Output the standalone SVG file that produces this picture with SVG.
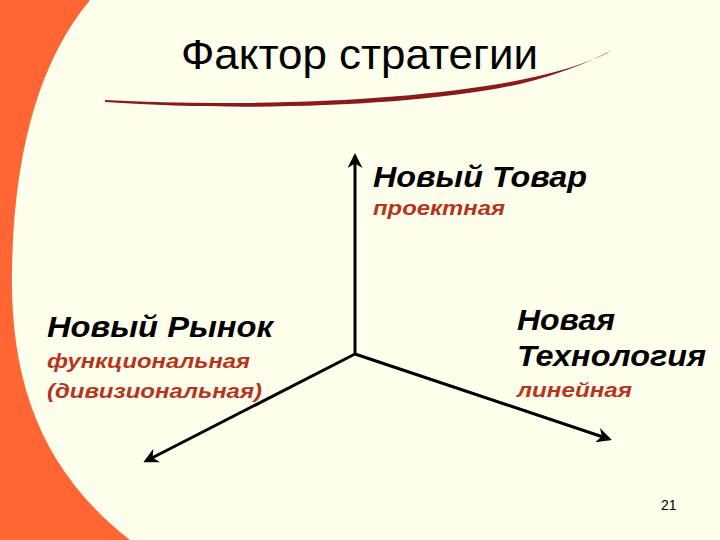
<svg xmlns="http://www.w3.org/2000/svg" width="720" height="540" viewBox="0 0 720 540">
<defs>
<style>
.h{font-family:"Liberation Sans",Arial,sans-serif;font-weight:bold;font-style:italic;font-size:29px;fill:#000}
.s{font-family:"Liberation Sans",Arial,sans-serif;font-weight:bold;font-style:italic;font-size:20px;fill:#B5361C}
.ax{stroke:#000;stroke-width:3;fill:none}
</style>
<marker id="ah" viewBox="0 0 10 10" refX="8" refY="5" markerWidth="5" markerHeight="5" orient="auto" markerUnits="strokeWidth">
<path d="M0,0 L10,5 L0,10 L3,5 Z" fill="#000"/>
</marker>
</defs>
<rect width="720" height="540" fill="#FF6633"/>
<path d="M90,0 L720,0 L720,540 L130,540 C40,470 10,380 12,270 C14,150 40,60 90,0 Z" fill="#FFFFEE"/>
<path d="M105,100 C250,108 420,100 520,80 C570,70 600,58 612,50 C590,62 560,74 520,84 C420,106 250,112 105,102 Z" fill="#8B1A1A"/>
<text x="181" y="69" font-family="Liberation Sans,Arial,sans-serif" font-size="42" fill="#000" textLength="357" lengthAdjust="spacingAndGlyphs">Фактор стратегии</text>
<g id="connectors">
<line class="ax" x1="355" y1="354" x2="355" y2="156" marker-end="url(#ah)"/>
<line class="ax" x1="355" y1="354" x2="146" y2="461" marker-end="url(#ah)"/>
<line class="ax" x1="355" y1="354" x2="609" y2="439" marker-end="url(#ah)"/>
</g>
<g id="product">
<text class="h" x="373" y="187" textLength="214" lengthAdjust="spacingAndGlyphs">Новый Товар</text>
<text class="s" x="373" y="215" textLength="132" lengthAdjust="spacingAndGlyphs">проектная</text>
</g>
<g id="market">
<text class="h" x="47" y="337" textLength="226" lengthAdjust="spacingAndGlyphs">Новый Рынок</text>
<text class="s" x="47" y="368" textLength="203" lengthAdjust="spacingAndGlyphs">функциональная</text>
<text class="s" x="47" y="398" textLength="215" lengthAdjust="spacingAndGlyphs">(дивизиональная)</text>
</g>
<g id="technology">
<text class="h" x="517" y="330" textLength="98" lengthAdjust="spacingAndGlyphs">Новая</text>
<text class="h" x="517" y="366" textLength="189" lengthAdjust="spacingAndGlyphs">Технология</text>
<text class="s" x="517" y="397" textLength="115" lengthAdjust="spacingAndGlyphs">линейная</text>
</g>
<text x="661" y="510" font-family="Liberation Sans,Arial,sans-serif" font-size="14" fill="#000">21</text>
</svg>
